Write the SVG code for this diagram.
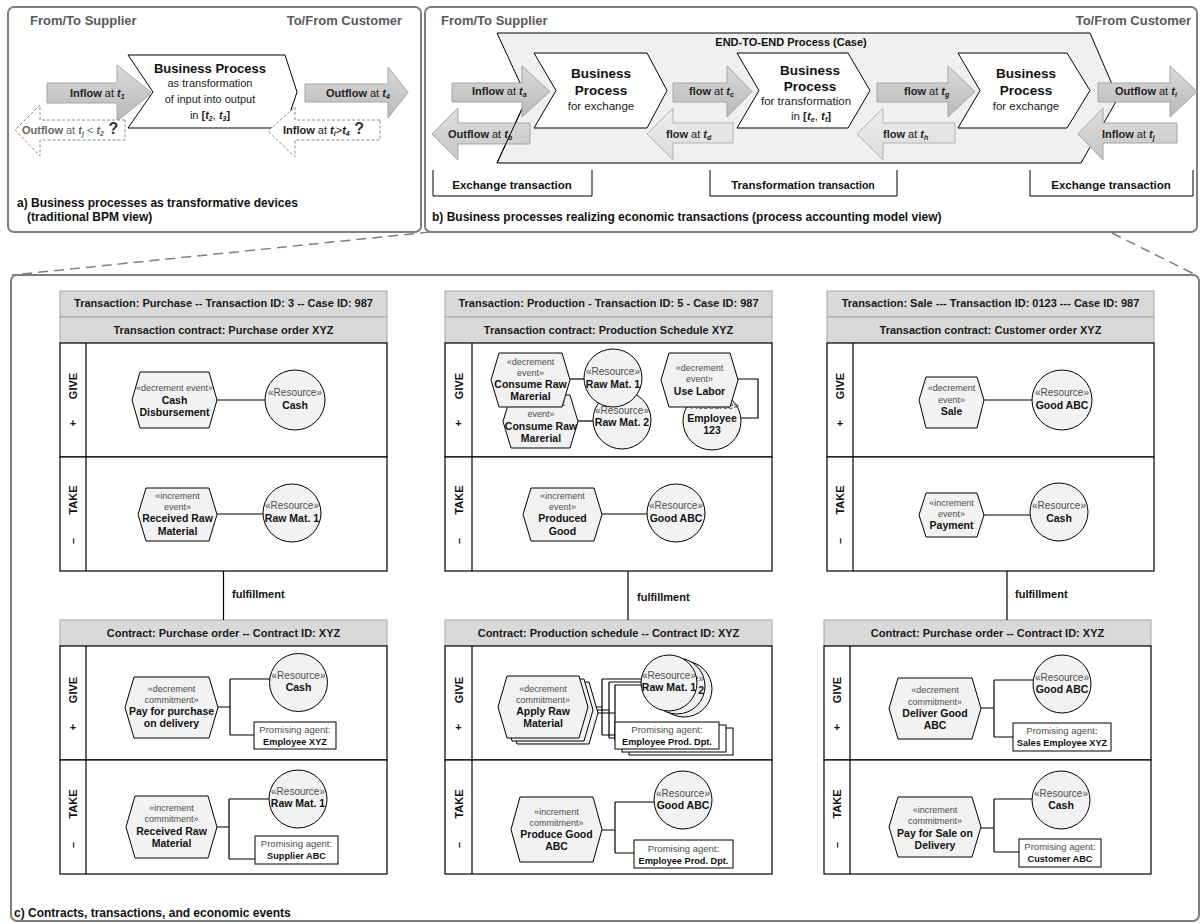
<svg xmlns="http://www.w3.org/2000/svg" width="1203" height="924" viewBox="0 0 1203 924">
<defs>
  <linearGradient id="gFwd" x1="0" y1="0" x2="0" y2="1">
    <stop offset="0" stop-color="#dadada"/><stop offset="1" stop-color="#b9b9b9"/>
  </linearGradient>
  <linearGradient id="gBack" x1="0" y1="0" x2="0" y2="1">
    <stop offset="0" stop-color="#dedede"/><stop offset="1" stop-color="#c6c6c6"/>
  </linearGradient>
  <linearGradient id="gLight" x1="0" y1="0" x2="0" y2="1">
    <stop offset="0" stop-color="#eeeeee"/><stop offset="1" stop-color="#dcdcdc"/>
  </linearGradient>
</defs>
<style>
  text { font-family: "Liberation Sans", Arial, Helvetica, sans-serif; }
  .pnl { fill: #fff; stroke: #7f7f7f; stroke-width: 2; }
  .ttl { font-size: 13px; font-weight: bold; fill: #595959; }
  .cap { font-size: 12px; font-weight: bold; fill: #111; }
  .bp { fill: #fff; stroke: #000; stroke-width: 1; }
  .e2e { fill: #f0f0f0; stroke: #000; stroke-width: 1; }
  .fwd { fill: url(#gFwd); stroke: #a6a6a6; stroke-width: 1; }
  .bck { fill: url(#gBack); stroke: #a6a6a6; stroke-width: 1; }
  .lgt { fill: url(#gLight); stroke: #b3b3b3; stroke-width: 1; }
  .dsh { fill: #fff; stroke: #8c8c8c; stroke-width: 1; stroke-dasharray: 3 2; }
  .at { font-size: 11px; fill: #222; }
  .atg { font-size: 11px; fill: #666; }
  .b { font-weight: bold; }
  .tv { font-weight: bold; font-style: italic; }
  .sb { font-size: 7px; font-weight: bold; font-style: italic; }
  .bpt { font-size: 13.5px; font-weight: bold; fill: #111; text-anchor: middle; }
  .bps { font-size: 11.5px; fill: #222; text-anchor: middle; }
  .brk { fill: none; stroke: #000; stroke-width: 1; }
  .brt { font-size: 11.5px; font-weight: bold; fill: #111; text-anchor: middle; }
  .hdr { fill: #d9d9d9; stroke: #a6a6a6; stroke-width: 1; }
  .h { font-size: 11px; font-weight: bold; fill: #1a1a1a; text-anchor: middle; }
  .lane { fill: #fff; stroke: #000; stroke-width: 1.2; }
  .ll { font-size: 11px; font-weight: bold; fill: #111; text-anchor: middle; }
  .hex { fill: #f2f2f2; stroke: #000; stroke-width: 1; }
  .res { fill: #f2f2f2; stroke: #000; stroke-width: 1; }
  .box { fill: #fff; stroke: #000; stroke-width: 1; }
  .st { font-size: 9px; fill: #4d4d4d; text-anchor: middle; }
  .rs { font-size: 10px; fill: #4d4d4d; text-anchor: middle; }
  .nm { font-size: 10.5px; font-weight: bold; fill: #111; text-anchor: middle; }
  .pa { font-size: 9.5px; fill: #4d4d4d; text-anchor: middle; }
  .pn { font-size: 9.2px; font-weight: bold; fill: #111; text-anchor: middle; }
  .con { fill: none; stroke: #000; stroke-width: 1.2; }
  .ff { font-size: 11px; font-weight: bold; fill: #111; }
  .zoom { fill: none; stroke: #808080; stroke-width: 1.5; stroke-dasharray: 10 6; }
</style>

<rect width="1203" height="924" fill="#fff"/>

<!-- ===== panel a: traditional BPM view ===== -->
<g id="panel-a">
  <rect class="pnl" x="8" y="7" width="413" height="225" rx="6"/>
  <text class="ttl" x="30" y="25">From/To Supplier</text>
  <text class="ttl" x="402" y="25" text-anchor="end">To/From Customer</text>

  <g id="a-process">
    <path class="bp" d="M128,55 H285 L297,92 L285,128 H128 L153,92 Z"/>
    <text x="210" y="73" style="font-size:13px;font-weight:bold;fill:#111;text-anchor:middle">Business Process</text>
    <text x="210" y="87" style="font-size:11px;fill:#222;text-anchor:middle">as transformation</text>
    <text x="210" y="103" style="font-size:11px;fill:#222;text-anchor:middle">of input into output</text>
    <text x="210" y="119" style="font-size:11px;fill:#222;text-anchor:middle">in <tspan class="b">[</tspan><tspan class="tv">t</tspan><tspan class="sb" dy="2">2</tspan><tspan dy="-2">, </tspan><tspan class="tv">t</tspan><tspan class="sb" dy="2">3</tspan><tspan class="b" dy="-2">]</tspan></text>
  </g>

  <g id="a-inflow">
    <path class="fwd" d="M47,83 H117 V65 L152,93 L117,121 V103 H47 Z"/>
    <text class="at" x="70" y="97"><tspan class="b">Inflow</tspan> at <tspan class="tv">t</tspan><tspan class="sb" dy="2">1</tspan></text>
  </g>
  <g id="a-outflow-back">
    <path class="dsh" d="M125,120 H40 V105 L15,130 L40,156 V140 H125 Z"/>
    <text class="atg" x="22" y="134"><tspan class="b">Outflow</tspan> at <tspan class="tv">t</tspan><tspan class="sb" dy="2">j</tspan><tspan dy="-2"> &lt; </tspan><tspan class="tv">t</tspan><tspan class="sb" dy="2">2</tspan><tspan dy="-2" style="font-size:16px;font-weight:bold;fill:#333"> ?</tspan></text>
  </g>
  <g id="a-outflow">
    <path class="fwd" d="M305,84 H388 V67 L408,92.5 L388,118 V102 H305 Z"/>
    <text class="at" x="326" y="97"><tspan class="b">Outflow</tspan> at <tspan class="tv">t</tspan><tspan class="sb" dy="2">4</tspan></text>
  </g>
  <g id="a-inflow-back">
    <path class="dsh" d="M380,120 H295 V107 L268,131 L295,157 V140 H380 Z"/>
    <text class="atg" x="283" y="134" style="fill:#222"><tspan class="b">Inflow</tspan> at <tspan class="tv">t</tspan><tspan class="sb" dy="2">i</tspan><tspan dy="-2">&gt;</tspan><tspan class="tv">t</tspan><tspan class="sb" dy="2">4</tspan><tspan dy="-2" style="font-size:16px;font-weight:bold;fill:#333"> ?</tspan></text>
  </g>

  <text class="cap" x="17" y="207">a) Business processes as transformative devices</text>
  <text class="cap" x="27" y="221">(traditional BPM view)</text>
</g>

<!-- ===== panel b: process accounting model view ===== -->
<g id="panel-b">
  <rect class="pnl" x="425" y="7" width="772" height="225" rx="6"/>
  <text class="ttl" x="441" y="25">From/To Supplier</text>
  <text class="ttl" x="1191" y="25" text-anchor="end">To/From Customer</text>

  <g id="b-end-to-end">
    <path class="e2e" d="M497,33 H1090 L1118,98 L1081,163 H497 L527,98 Z"/>
    <text x="791" y="46" style="font-size:11px;font-weight:bold;fill:#111;text-anchor:middle">END-TO-END Process (Case)</text>
  </g>

  <g id="b-process-1">
    <path class="bp" d="M534,53 H647 L667,90.5 L647,128 H534 L556,90.5 Z"/>
    <text class="bpt" x="601" y="78">Business</text>
    <text class="bpt" x="601" y="95">Process</text>
    <text class="bps" x="601" y="110">for exchange</text>
  </g>
  <g id="b-process-2">
    <path class="bp" d="M737,53 H848 L870,90.5 L848,128 H737 L759,90.5 Z"/>
    <text class="bpt" x="810" y="75">Business</text>
    <text class="bpt" x="810" y="91">Process</text>
    <text class="bps" x="806" y="105">for transformation</text>
    <text class="bps" x="811" y="120">in <tspan class="b">[</tspan><tspan class="tv">t</tspan><tspan class="sb" dy="2">e</tspan><tspan dy="-2">, </tspan><tspan class="tv">t</tspan><tspan class="sb" dy="2">f</tspan><tspan class="b" dy="-2">]</tspan></text>
  </g>
  <g id="b-process-3">
    <path class="bp" d="M958,53 H1067 L1090,90.5 L1067,128 H958 L980,90.5 Z"/>
    <text class="bpt" x="1026" y="78">Business</text>
    <text class="bpt" x="1026" y="95">Process</text>
    <text class="bps" x="1026" y="110">for exchange</text>
  </g>

  <g id="b-outflow-b">
    <path class="bck" d="M530,123 H458 V108 L432,134 L458,160 V144 H530 Z"/>
    <text class="at" x="448" y="138"><tspan class="b">Outflow</tspan> at <tspan class="tv">t</tspan><tspan class="sb" dy="2">b</tspan></text>
  </g>
  <!-- lower-left edge of the end-to-end chevron passes over the outgoing arrow -->
  <path d="M527,98 L497,163" fill="none" stroke="#000" stroke-width="1"/>

  <g id="b-inflow-a">
    <path class="fwd" d="M452,83 H522 V66 L550,91.5 L522,117 V102 H452 Z"/>
    <text class="at" x="472" y="95"><tspan class="b">Inflow</tspan> at <tspan class="tv">t</tspan><tspan class="sb" dy="2">a</tspan></text>
  </g>
  <g id="b-flow-c">
    <path class="fwd" d="M673,83 H727 V66 L752,91.5 L727,117 V102 H673 Z"/>
    <text class="at" x="689" y="95"><tspan class="b">flow</tspan> at <tspan class="tv">t</tspan><tspan class="sb" dy="2">c</tspan></text>
  </g>
  <g id="b-flow-d">
    <path class="lgt" d="M733,123 H673 V108 L647,134 L673,160 V143 H733 Z"/>
    <text class="at" x="666" y="138"><tspan class="b">flow</tspan> at <tspan class="tv">t</tspan><tspan class="sb" dy="2">d</tspan></text>
  </g>
  <g id="b-flow-g">
    <path class="fwd" d="M877,83 H948 V66 L975,91.5 L948,117 V102 H877 Z"/>
    <text class="at" x="904" y="95"><tspan class="b">flow</tspan> at <tspan class="tv">t</tspan><tspan class="sb" dy="2">g</tspan></text>
  </g>
  <g id="b-flow-h">
    <path class="lgt" d="M955,123 H883 V108 L857,134 L883,160 V143 H955 Z"/>
    <text class="at" x="883" y="138"><tspan class="b">flow</tspan> at <tspan class="tv">t</tspan><tspan class="sb" dy="2">h</tspan></text>
  </g>
  <g id="b-outflow-i">
    <path class="fwd" d="M1098,83 H1170 V66 L1197,91.5 L1170,117 V102 H1098 Z"/>
    <text class="at" x="1115" y="95"><tspan class="b">Outflow</tspan> at <tspan class="tv">t</tspan><tspan class="sb" dy="2">i</tspan></text>
  </g>
  <g id="b-inflow-j">
    <path class="bck" d="M1177,123 H1103 V108 L1078,134 L1103,160 V143 H1177 Z"/>
    <text class="at" x="1102" y="138"><tspan class="b">Inflow</tspan> at <tspan class="tv">t</tspan><tspan class="sb" dy="2">j</tspan></text>
  </g>

  <g id="b-brackets">
    <path class="brk" d="M433,170 V196 H592 V170"/>
    <text class="brt" x="512" y="189">Exchange transaction</text>
    <path class="brk" d="M710,170 V196 H897 V170"/>
    <text class="brt" x="803" y="189">Transformation <tspan style="font-size:10.5px">transaction</tspan></text>
    <path class="brk" d="M1030,170 V196 H1193 V170"/>
    <text class="brt" x="1111" y="189">Exchange transaction</text>
  </g>

  <text class="cap" x="432" y="221">b) Business processes realizing economic transactions (process accounting model view)</text>
</g>

<!-- ===== panel c: contracts, transactions and economic events ===== -->
<path class="zoom" d="M430,232 L12,275"/>
<path class="zoom" d="M1112,233 L1196,275"/>
<rect class="pnl" x="11" y="275" width="1188" height="646" rx="6"/>
<text class="cap" x="14" y="917">c) Contracts, transactions, and economic events</text>

<!-- purchase: transaction frame -->
<g id="purchase-transaction">
  <rect class="hdr" x="60" y="291" width="327" height="26"/>
  <text class="h" x="223.5" y="307">Transaction: Purchase -- Transaction ID: 3 -- Case ID: 987</text>
  <rect class="hdr" x="60" y="317" width="327" height="26"/>
  <text class="h" x="223.5" y="334">Transaction contract: Purchase order XYZ</text>
  <rect class="lane" x="60" y="343" width="327" height="114"/>
  <rect class="lane" x="60" y="457" width="327" height="114"/>
  <line class="lane" x1="86" y1="343" x2="86" y2="571"/>
  <text class="ll" transform="translate(77,386) rotate(-90)">GIVE</text>
  <text class="ll" x="73" y="427">+</text>
  <text class="ll" transform="translate(77,500) rotate(-90)">TAKE</text>
  <text class="ll" transform="translate(77,541) rotate(-90)">–</text>
</g>
<!-- purchase: contract frame -->
<g id="purchase-contract">
  <rect class="hdr" x="60" y="620" width="327" height="26"/>
  <text class="h" x="223.5" y="637">Contract: Purchase order -- Contract ID: XYZ</text>
  <rect class="lane" x="60" y="646" width="327" height="114"/>
  <rect class="lane" x="60" y="760" width="327" height="114"/>
  <line class="lane" x1="86" y1="646" x2="86" y2="874"/>
  <text class="ll" transform="translate(77,690) rotate(-90)">GIVE</text>
  <text class="ll" x="73" y="731">+</text>
  <text class="ll" transform="translate(77,804) rotate(-90)">TAKE</text>
  <text class="ll" transform="translate(77,845) rotate(-90)">–</text>
</g>

<!-- production: transaction frame -->
<g id="production-transaction">
  <rect class="hdr" x="445" y="291" width="327" height="26"/>
  <text class="h" x="608.5" y="307">Transaction: Production - Transaction ID: 5 - Case ID: 987</text>
  <rect class="hdr" x="445" y="317" width="327" height="26"/>
  <text class="h" x="608.5" y="334">Transaction contract: Production Schedule XYZ</text>
  <rect class="lane" x="445" y="343" width="327" height="114"/>
  <rect class="lane" x="445" y="457" width="327" height="114"/>
  <line class="lane" x1="472" y1="343" x2="472" y2="571"/>
  <text class="ll" transform="translate(463,386) rotate(-90)">GIVE</text>
  <text class="ll" x="458.5" y="427">+</text>
  <text class="ll" transform="translate(463,500) rotate(-90)">TAKE</text>
  <text class="ll" transform="translate(463,541) rotate(-90)">–</text>
</g>
<!-- production: contract frame -->
<g id="production-contract">
  <rect class="hdr" x="445" y="620" width="327" height="26"/>
  <text class="h" x="608.5" y="637">Contract: Production schedule -- Contract ID: XYZ</text>
  <rect class="lane" x="445" y="646" width="327" height="114"/>
  <rect class="lane" x="445" y="760" width="327" height="114"/>
  <line class="lane" x1="472" y1="646" x2="472" y2="874"/>
  <text class="ll" transform="translate(463,690) rotate(-90)">GIVE</text>
  <text class="ll" x="458.5" y="731">+</text>
  <text class="ll" transform="translate(463,804) rotate(-90)">TAKE</text>
  <text class="ll" transform="translate(463,845) rotate(-90)">–</text>
</g>

<!-- sale: transaction frame -->
<g id="sale-transaction">
  <rect class="hdr" x="827" y="291" width="327" height="26"/>
  <text class="h" x="990.5" y="307">Transaction: Sale --- Transaction ID: 0123 --- Case ID: 987</text>
  <rect class="hdr" x="827" y="317" width="327" height="26"/>
  <text class="h" x="990.5" y="334">Transaction contract: Customer order XYZ</text>
  <rect class="lane" x="827" y="343" width="327" height="114"/>
  <rect class="lane" x="827" y="457" width="327" height="114"/>
  <line class="lane" x1="853" y1="343" x2="853" y2="571"/>
  <text class="ll" transform="translate(844,386) rotate(-90)">GIVE</text>
  <text class="ll" x="840" y="427">+</text>
  <text class="ll" transform="translate(844,500) rotate(-90)">TAKE</text>
  <text class="ll" transform="translate(844,541) rotate(-90)">–</text>
</g>
<!-- sale: contract frame -->
<g id="sale-contract">
  <rect class="hdr" x="824" y="620" width="327" height="26"/>
  <text class="h" x="987.5" y="637">Contract: Purchase order -- Contract ID: XYZ</text>
  <rect class="lane" x="824" y="646" width="327" height="114"/>
  <rect class="lane" x="824" y="760" width="327" height="114"/>
  <line class="lane" x1="850" y1="646" x2="850" y2="874"/>
  <text class="ll" transform="translate(841,690) rotate(-90)">GIVE</text>
  <text class="ll" x="837" y="731">+</text>
  <text class="ll" transform="translate(841,804) rotate(-90)">TAKE</text>
  <text class="ll" transform="translate(841,845) rotate(-90)">–</text>
</g>

<!-- connectors -->
<g id="connectors">
  <!-- purchase -->
  <path class="con" d="M217,400 H265"/>
  <path class="con" d="M217,514 H263"/>
  <path class="con" d="M223.5,571 V620"/>
  <path class="con" d="M218,707 H230 M230,679 V735 M230,679 H270 M230,735 H254"/>
  <path class="con" d="M217,827 H229 M229,799 V859 M229,799 H269 M229,859 H255"/>
  <!-- production -->
  <path class="con" d="M578,421 H593"/>
  <path class="con" d="M570,379 H584"/>
  <path class="con" d="M738,379 H758 V418 H741"/>
  <path class="con" d="M602,514 H647"/>
  <path class="con" d="M628,571 V620"/>
  <path class="con" d="M598,713 H615 M615,685 V741 M615,685 H660 M615,741 H629"/>
  <path class="con" d="M593,710 H609 M609,682 V738 M609,682 H651 M609,738 H622"/>
  <path class="con" d="M588,707 H602 M602,679 V735 M602,679 H643 M602,735 H615"/>
  <path class="con" d="M602,830 H615 M615,802 V853 M615,802 H656 M615,853 H634"/>
  <!-- sale -->
  <path class="con" d="M984,400 H1032"/>
  <path class="con" d="M984,515 H1030"/>
  <path class="con" d="M1007,571 V620"/>
  <path class="con" d="M981,708 H994 M994,680 V737 M994,680 H1033 M994,737 H1013"/>
  <path class="con" d="M981,828 H994 M994,799 V852 M994,799 H1032 M994,852 H1019"/>
</g>

<g id="fulfillment-labels">
  <text class="ff" x="232" y="598">fulfillment</text>
  <text class="ff" x="637" y="601">fulfillment</text>
  <text class="ff" x="1015" y="598">fulfillment</text>
</g>

<!-- ===== purchase nodes ===== -->
<g id="ev-cash-disbursement">
  <polygon class="hex" points="132,400 140,372 209,372 217,400 209,428 140,428"/>
  <text class="st" x="174.5" y="391">«decrement event»</text>
  <text class="nm" x="174.5" y="404">Cash</text>
  <text class="nm" x="174.5" y="416">Disbursement</text>
</g>
<g id="res-cash-1">
  <circle class="res" cx="295" cy="400" r="30"/>
  <text class="rs" x="295" y="396">«Resource»</text>
  <text class="nm" x="295" y="409">Cash</text>
</g>
<g id="ev-received-raw">
  <polygon class="hex" points="138,514.5 146,488 209,488 217,514.5 209,541 146,541"/>
  <text class="st" x="177.5" y="499">«increment</text>
  <text class="st" x="177.5" y="510">event»</text>
  <text class="nm" x="177.5" y="522">Received Raw</text>
  <text class="nm" x="177.5" y="535">Material</text>
</g>
<g id="res-raw-1">
  <circle class="res" cx="292" cy="513" r="29"/>
  <text class="rs" x="292" y="509">«Resource»</text>
  <text class="nm" x="292" y="522">Raw Mat. 1</text>
</g>
<g id="cm-pay-purchase">
  <polygon class="hex" points="125,707.5 134,677 209,677 218,707.5 209,738 134,738"/>
  <text class="st" x="171.5" y="692">«decrement</text>
  <text class="st" x="171.5" y="703">commitment»</text>
  <text class="nm" x="171.5" y="715">Pay for purchase</text>
  <text class="nm" x="171.5" y="727">on delivery</text>
</g>
<g id="res-cash-2">
  <circle class="res" cx="298.5" cy="682.5" r="29"/>
  <text class="rs" x="298.5" y="679">«Resource»</text>
  <text class="nm" x="298.5" y="691">Cash</text>
</g>
<g id="ag-employee-xyz">
  <rect class="box" x="254" y="722" width="82" height="27"/>
  <text class="pa" x="295" y="733">Promising agent:</text>
  <text class="pn" x="295" y="745">Employee XYZ</text>
</g>
<g id="cm-received-raw">
  <polygon class="hex" points="126,827 135,796 208,796 217,827 208,858 135,858"/>
  <text class="st" x="171.5" y="811">«increment</text>
  <text class="st" x="171.5" y="822">commitment»</text>
  <text class="nm" x="171.5" y="835">Received Raw</text>
  <text class="nm" x="171.5" y="847">Material</text>
</g>
<g id="res-raw-1b">
  <circle class="res" cx="298" cy="799" r="29"/>
  <text class="rs" x="298" y="795">«Resource»</text>
  <text class="nm" x="298" y="807">Raw Mat. 1</text>
</g>
<g id="ag-supplier-abc">
  <rect class="box" x="255" y="836" width="83" height="28"/>
  <text class="pa" x="296.5" y="847">Promising agent:</text>
  <text class="pn" x="296.5" y="859">Supplier ABC</text>
</g>

<!-- ===== production nodes ===== -->
<g id="ev-consume-raw-2">
  <polygon class="hex" points="503,421.5 511,395 570,395 578,421.5 570,448 511,448"/>
  <text class="st" x="541" y="406">«decrement</text>
  <text class="st" x="541" y="417">event»</text>
  <text class="nm" x="541" y="430">Consume Raw</text>
  <text class="nm" x="541" y="442">Marerial</text>
</g>
<g id="res-raw-2">
  <circle class="res" cx="622" cy="420" r="29"/>
  <text class="rs" x="622" y="414">«Resource»</text>
  <text class="nm" x="622" y="426">Raw Mat. 2</text>
</g>
<g id="ev-consume-raw-1">
  <polygon class="hex" points="491,380 499,353 562,353 570,380 562,407 499,407"/>
  <text class="st" x="530.5" y="365">«decrement</text>
  <text class="st" x="530.5" y="376">event»</text>
  <text class="nm" x="530.5" y="388">Consume Raw</text>
  <text class="nm" x="530.5" y="400">Marerial</text>
</g>
<g id="res-raw-1c">
  <circle class="res" cx="613" cy="378" r="29"/>
  <text class="rs" x="613" y="375">«Resource»</text>
  <text class="nm" x="613" y="388">Raw Mat. 1</text>
</g>
<g id="res-employee-123">
  <circle class="res" cx="712" cy="421" r="29"/>
  <text class="rs" x="712" y="409">«Resource»</text>
  <text class="nm" x="712" y="422">Employee</text>
  <text class="nm" x="712" y="434">123</text>
</g>
<g id="ev-use-labor">
  <polygon class="hex" points="661,380 669,353 730,353 738,380 730,407 669,407"/>
  <text class="st" x="699.5" y="371">«decrement</text>
  <text class="st" x="699.5" y="382">event»</text>
  <text class="nm" x="699.5" y="395">Use Labor</text>
</g>
<g id="ev-produced-good">
  <polygon class="hex" points="523,514.5 531,488 594,488 602,514.5 594,541 531,541"/>
  <text class="st" x="562.5" y="499">«increment</text>
  <text class="st" x="562.5" y="510">event»</text>
  <text class="nm" x="562.5" y="522">Produced</text>
  <text class="nm" x="562.5" y="535">Good</text>
</g>
<g id="res-good-abc-1">
  <circle class="res" cx="676" cy="513" r="29"/>
  <text class="rs" x="676" y="509">«Resource»</text>
  <text class="nm" x="676" y="522">Good ABC</text>
</g>

<g id="cm-apply-raw">
  <polygon class="hex" points="508,713 517,682 589,682 598,713 589,744 517,744"/>
  <polygon class="hex" points="503,710 512,679 584,679 593,710 584,741 512,741"/>
  <polygon class="hex" points="498,707 507,676 579,676 588,707 579,738 507,738"/>
  <text class="st" x="543" y="692">«decrement</text>
  <text class="st" x="543" y="703">commitment»</text>
  <text class="nm" x="543" y="715">Apply Raw</text>
  <text class="nm" x="543" y="727">Material</text>
</g>
<g id="res-raw-stack">
  <circle class="res" cx="684" cy="689" r="28"/>
  <circle class="res" cx="677" cy="686" r="28"/>
  <text class="rs" x="677" y="682">«Resource»</text>
  <text class="nm" x="677" y="694">Raw Mat. 2</text>
  <circle class="res" cx="669" cy="683" r="28"/>
  <text class="rs" x="669" y="679">«Resource»</text>
  <text class="nm" x="669" y="691">Raw Mat. 1</text>
</g>
<g id="ag-prod-dpt-stack">
  <rect class="box" x="629" y="728" width="104" height="27"/>
  <rect class="box" x="622" y="725" width="104" height="27"/>
  <rect class="box" x="615" y="722" width="104" height="27"/>
  <text class="pa" x="667" y="733">Promising agent:</text>
  <text class="pn" x="667" y="745">Employee Prod. Dpt.</text>
</g>
<g id="cm-produce-good">
  <polygon class="hex" points="511,829.5 520,797 593,797 602,829.5 593,862 520,862"/>
  <text class="st" x="556.5" y="815">«increment</text>
  <text class="st" x="556.5" y="826">commitment»</text>
  <text class="nm" x="556.5" y="838">Produce Good</text>
  <text class="nm" x="556.5" y="850">ABC</text>
</g>
<g id="res-good-abc-2">
  <circle class="res" cx="683" cy="800" r="29"/>
  <text class="rs" x="683" y="797">«Resource»</text>
  <text class="nm" x="683" y="809">Good ABC</text>
</g>
<g id="ag-prod-dpt">
  <rect class="box" x="634" y="840" width="99" height="28"/>
  <text class="pa" x="683.5" y="852">Promising agent:</text>
  <text class="pn" x="683.5" y="864">Employee Prod. Dpt.</text>
</g>

<!-- ===== sale nodes ===== -->
<g id="ev-sale">
  <polygon class="hex" points="919,400 926,377 977,377 984,400 977,428 926,428"/>
  <text class="st" x="951.5" y="391">«decrement</text>
  <text class="st" x="951.5" y="403">event»</text>
  <text class="nm" x="951.5" y="415">Sale</text>
</g>
<g id="res-good-abc-3">
  <circle class="res" cx="1062" cy="400" r="30"/>
  <text class="rs" x="1062" y="396">«Resource»</text>
  <text class="nm" x="1062" y="409">Good ABC</text>
</g>
<g id="ev-payment">
  <polygon class="hex" points="919,515 926,493 977,493 984,515 977,537 926,537"/>
  <text class="st" x="951.5" y="506">«increment</text>
  <text class="st" x="951.5" y="517">event»</text>
  <text class="nm" x="951.5" y="529">Payment</text>
</g>
<g id="res-cash-3">
  <circle class="res" cx="1059" cy="512" r="29"/>
  <text class="rs" x="1059" y="509">«Resource»</text>
  <text class="nm" x="1059" y="522">Cash</text>
</g>
<g id="cm-deliver-good">
  <polygon class="hex" points="889,708.5 898,678 972,678 981,708.5 972,739 898,739"/>
  <text class="st" x="935" y="693">«decrement</text>
  <text class="st" x="935" y="705">commitment»</text>
  <text class="nm" x="935" y="717">Deliver Good</text>
  <text class="nm" x="935" y="729">ABC</text>
</g>
<g id="res-good-abc-4">
  <circle class="res" cx="1062" cy="684" r="29"/>
  <text class="rs" x="1062" y="681">«Resource»</text>
  <text class="nm" x="1062" y="693">Good ABC</text>
</g>
<g id="ag-sales-employee">
  <rect class="box" x="1013" y="723" width="98" height="28"/>
  <text class="pa" x="1062" y="734">Promising agent:</text>
  <text class="pn" x="1062" y="746">Sales Employee XYZ</text>
</g>
<g id="cm-pay-sale">
  <polygon class="hex" points="889,827 898,797 972,797 981,827 972,857 898,857"/>
  <text class="st" x="935" y="813">«increment</text>
  <text class="st" x="935" y="824">commitment»</text>
  <text class="nm" x="935" y="837">Pay for Sale on</text>
  <text class="nm" x="935" y="849">Delivery</text>
</g>
<g id="res-cash-4">
  <circle class="res" cx="1061" cy="800" r="29"/>
  <text class="rs" x="1061" y="797">«Resource»</text>
  <text class="nm" x="1061" y="809">Cash</text>
</g>
<g id="ag-customer-abc">
  <rect class="box" x="1019" y="839" width="82" height="28"/>
  <text class="pa" x="1060" y="850">Promising agent:</text>
  <text class="pn" x="1060" y="862">Customer ABC</text>
</g>
</svg>
